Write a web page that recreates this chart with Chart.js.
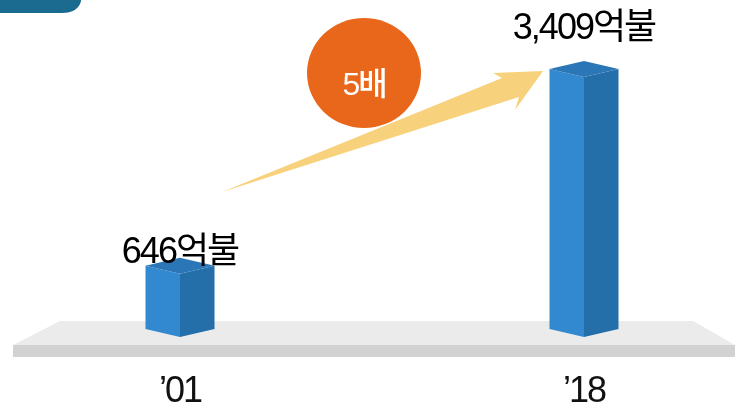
<!DOCTYPE html>
<html><head><meta charset="utf-8">
<script src="https://cdn.jsdelivr.net/npm/chart.js@4/dist/chart.umd.min.js"></script>
<style>html,body{margin:0;padding:0;background:#fff;overflow:hidden}</style>
</head><body>
<canvas id="c" width="735" height="408" style="width:735px;height:408px;display:block"></canvas>
<script>
// ---- data ----
const categories = ['\u201901', '\u201918'];
const values = [646, 3409];
const valueLabels = ['646억불', '3,409억불'];
const ratioLabel = '5배';
const axisMin = -240;
const axisMax = 3409;

// ---- layout constants ----
const labelOffsets = [11, 38];
const depth = 8;
const FONT = '"Liberation Sans", "Noto Sans CJK KR", Arial, sans-serif';

const scene = {
  id: 'scene',
  beforeDraw(chart) {
    chart.ctx.letterSpacing = '-2px';
  },
  beforeDatasetsDraw(chart) {
    const ctx = chart.ctx;
    ctx.save();
    // top-left tab
    ctx.fillStyle = '#1B6A8F';
    ctx.beginPath();
    ctx.moveTo(0, 0); ctx.lineTo(81, 0); ctx.lineTo(81, 1);
    ctx.quadraticCurveTo(78, 13, 62, 13);
    ctx.lineTo(0, 13); ctx.closePath(); ctx.fill();
    // floor
    ctx.fillStyle = '#EBEBEB';
    ctx.beginPath();
    ctx.moveTo(60, 321); ctx.lineTo(693, 321); ctx.lineTo(735, 345); ctx.lineTo(13, 345);
    ctx.closePath(); ctx.fill();
    ctx.fillStyle = '#D2D2D2';
    ctx.fillRect(13, 345, 722, 12);
    // arrow
    ctx.fillStyle = '#F8D17C';
    ctx.beginPath();
    ctx.moveTo(222, 192);
    ctx.lineTo(502, 78);
    ctx.lineTo(493, 73);
    ctx.lineTo(543, 71);
    ctx.lineTo(515, 110);
    ctx.lineTo(519, 97);
    ctx.closePath(); ctx.fill();
    // circle
    ctx.fillStyle = '#E8671A';
    ctx.beginPath();
    ctx.ellipse(364, 73, 57, 55, 0, 0, Math.PI * 2);
    ctx.fill();
    ctx.fillStyle = '#FFFFFF';
    ctx.font = '500 32px ' + FONT;
    ctx.textAlign = 'center';
    ctx.textBaseline = 'alphabetic';
    ctx.fillText(ratioLabel, 364, 95);
    ctx.restore();
  },
  afterDatasetsDraw(chart) {
    const ctx = chart.ctx;
    const meta = chart.getDatasetMeta(0);
    ctx.save();
    meta.data.forEach((bar, i) => {
      const cx = bar.x, y = bar.y, base = bar.base, hw = bar.width / 2;
      // left face
      ctx.fillStyle = '#3389CF';
      ctx.beginPath();
      ctx.moveTo(cx - hw, y - depth); ctx.lineTo(cx, y); ctx.lineTo(cx, base); ctx.lineTo(cx - hw, base - depth);
      ctx.closePath(); ctx.fill();
      // right face
      ctx.fillStyle = '#246EA9';
      ctx.beginPath();
      ctx.moveTo(cx, y); ctx.lineTo(cx + hw, y - depth); ctx.lineTo(cx + hw, base - depth); ctx.lineTo(cx, base);
      ctx.closePath(); ctx.fill();
      // top face
      ctx.fillStyle = '#2B76B6';
      ctx.beginPath();
      ctx.moveTo(cx - hw, y - depth); ctx.lineTo(cx, y - 2 * depth); ctx.lineTo(cx + hw, y - depth); ctx.lineTo(cx, y);
      ctx.closePath(); ctx.fill();
      // value label
      ctx.fillStyle = '#000000';
      ctx.font = '36px ' + FONT;
      ctx.letterSpacing = '-2px';
      ctx.textAlign = 'center';
      ctx.textBaseline = 'alphabetic';
      ctx.fillText(valueLabels[i], cx, y - labelOffsets[i]);
    });
    ctx.restore();
  }
};

new Chart(document.getElementById('c'), {
  type: 'bar',
  data: {
    labels: categories,
    datasets: [{
      data: values,
      base: axisMin,
      backgroundColor: 'rgba(0,0,0,0)',
      borderWidth: 0,
      barThickness: 69,
      clip: false
    }]
  },
  options: {
    responsive: false,
    animation: false,
    devicePixelRatio: 1,
    layout: { padding: { left: 180, right: 151, top: 77, bottom: 0 } },
    plugins: { legend: { display: false }, tooltip: { enabled: false } },
    scales: {
      x: {
        offset: false,
        grid: { display: false, drawTicks: false },
        border: { display: false },
        afterFit(scale) { scale.height = 71; },
        ticks: { color: '#111', padding: 39, maxRotation: 0, autoSkip: false,
                 font: { family: FONT, size: 36, lineHeight: 0.9 } }
      },
      y: { display: false, min: axisMin, max: axisMax }
    }
  },
  plugins: [scene]
});
</script>
</body></html>
